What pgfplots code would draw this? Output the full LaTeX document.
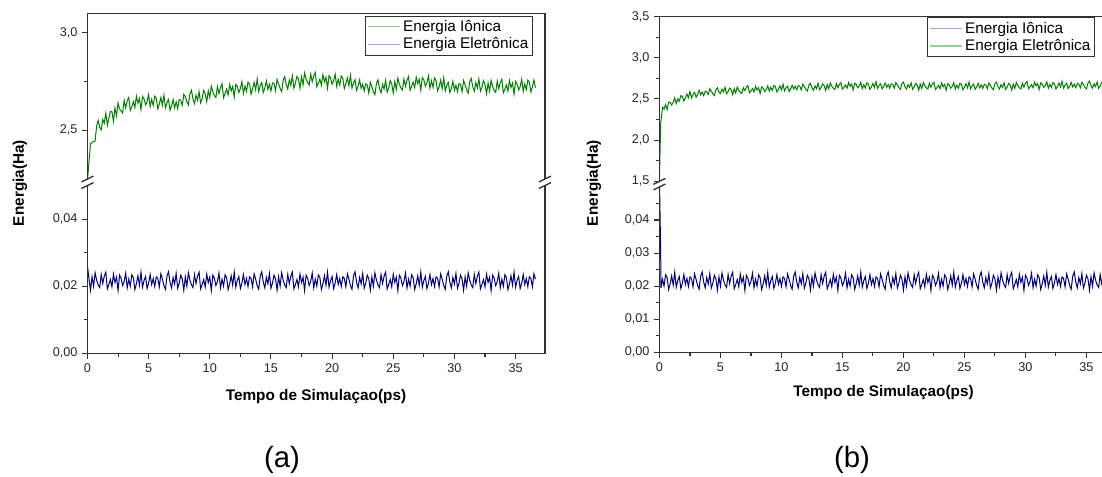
\documentclass[border=0pt]{standalone}
\usepackage{fontspec}
\setmainfont{Liberation Sans}
\usepackage{pgfplots}
\pgfplotsset{compat=1.18}
\usepackage{pgfplotstable}

\definecolor{dgreen}{RGB}{0,128,0}
\definecolor{dnavy}{RGB}{0,0,128}
\definecolor{lgreen}{RGB}{150,210,150}
\definecolor{lblue}{RGB}{165,165,220}
\definecolor{spine}{RGB}{50,50,50}

% (a) upper series
\pgfplotstableread[row sep=\\]{t y\\
0 2.24\\0.125 2.34\\0.25 2.431\\0.375 2.438\\0.5 2.442\\0.625 2.445\\0.75 2.522\\0.875 2.550\\1 2.515\\1.125 2.502\\1.25 2.555\\1.375 2.536\\1.5 2.588\\1.625 2.525\\1.75 2.562\\1.875 2.596\\2 2.595\\2.125 2.547\\2.25 2.614\\2.375 2.573\\2.5 2.641\\2.625 2.609\\2.75 2.599\\2.875 2.588\\3 2.654\\3.125 2.615\\3.25 2.651\\3.375 2.668\\3.5 2.602\\3.625 2.621\\3.75 2.647\\3.875 2.616\\4 2.675\\4.125 2.639\\4.25 2.663\\4.375 2.606\\4.5 2.673\\4.625 2.661\\4.75 2.630\\4.875 2.647\\5 2.684\\5.125 2.621\\5.25 2.658\\5.375 2.628\\5.5 2.675\\5.625 2.664\\5.75 2.610\\5.875 2.635\\6 2.668\\6.125 2.628\\6.25 2.680\\6.375 2.615\\6.5 2.641\\6.625 2.658\\6.75 2.603\\6.875 2.625\\7 2.658\\7.125 2.615\\7.25 2.646\\7.375 2.612\\7.5 2.658\\7.625 2.652\\7.75 2.628\\7.875 2.684\\8 2.673\\8.125 2.647\\8.25 2.630\\8.375 2.687\\8.5 2.705\\8.625 2.660\\8.75 2.637\\8.875 2.680\\9 2.653\\9.125 2.698\\9.25 2.641\\9.375 2.663\\9.5 2.704\\9.625 2.688\\9.75 2.646\\9.875 2.703\\10 2.668\\10.125 2.726\\10.25 2.697\\10.375 2.677\\10.5 2.668\\10.625 2.724\\10.75 2.688\\10.875 2.719\\11 2.738\\11.125 2.667\\11.25 2.689\\11.375 2.710\\11.5 2.681\\11.625 2.735\\11.75 2.702\\11.875 2.725\\12 2.670\\12.125 2.735\\12.25 2.726\\12.375 2.694\\12.5 2.713\\12.625 2.749\\12.75 2.689\\12.875 2.727\\13 2.699\\13.125 2.747\\13.25 2.737\\13.375 2.685\\13.5 2.712\\13.625 2.746\\13.75 2.707\\13.875 2.763\\14 2.699\\14.125 2.728\\14.25 2.745\\14.375 2.694\\14.5 2.716\\14.625 2.753\\14.75 2.710\\14.875 2.736\\15 2.702\\15.125 2.743\\15.25 2.740\\15.375 2.703\\15.5 2.761\\15.625 2.738\\15.75 2.715\\15.875 2.698\\16 2.757\\16.125 2.775\\16.25 2.734\\16.375 2.711\\16.5 2.758\\16.625 2.731\\16.75 2.779\\16.875 2.716\\17 2.742\\17.125 2.776\\17.25 2.763\\17.375 2.715\\17.5 2.774\\17.625 2.733\\17.75 2.794\\17.875 2.762\\18 2.744\\18.125 2.733\\18.25 2.788\\18.375 2.749\\18.5 2.779\\18.625 2.796\\18.75 2.723\\18.875 2.742\\19 2.762\\19.125 2.731\\19.25 2.785\\19.375 2.749\\19.5 2.772\\19.625 2.715\\19.75 2.780\\19.875 2.768\\20 2.736\\20.125 2.753\\20.25 2.788\\20.375 2.725\\20.5 2.762\\20.625 2.732\\20.75 2.778\\20.875 2.767\\21 2.714\\21.125 2.739\\21.25 2.769\\21.375 2.729\\21.5 2.782\\21.625 2.717\\21.75 2.742\\21.875 2.759\\22 2.704\\22.125 2.726\\22.25 2.758\\22.375 2.715\\22.5 2.736\\22.625 2.702\\22.75 2.738\\22.875 2.732\\23 2.690\\23.125 2.746\\23.25 2.724\\23.375 2.698\\23.5 2.683\\23.625 2.740\\23.75 2.759\\23.875 2.714\\24 2.692\\24.125 2.735\\24.25 2.711\\24.375 2.756\\24.5 2.695\\24.625 2.717\\24.75 2.754\\24.875 2.738\\25 2.692\\25.125 2.749\\25.25 2.709\\25.375 2.767\\25.5 2.737\\25.625 2.717\\25.75 2.707\\25.875 2.763\\26 2.725\\26.125 2.756\\26.25 2.776\\26.375 2.705\\26.5 2.726\\26.625 2.747\\26.75 2.719\\26.875 2.773\\27 2.739\\27.125 2.762\\27.25 2.705\\27.375 2.770\\27.5 2.758\\27.625 2.726\\27.75 2.743\\27.875 2.779\\28 2.716\\28.125 2.754\\28.25 2.720\\28.375 2.768\\28.5 2.754\\28.625 2.702\\28.75 2.723\\28.875 2.757\\29 2.713\\29.125 2.769\\29.25 2.702\\29.375 2.731\\29.5 2.745\\29.625 2.694\\29.75 2.714\\29.875 2.751\\30 2.705\\30.125 2.731\\30.25 2.698\\30.375 2.739\\30.5 2.735\\30.625 2.698\\30.75 2.755\\30.875 2.732\\31 2.707\\31.125 2.690\\31.25 2.748\\31.375 2.766\\31.5 2.723\\31.625 2.700\\31.75 2.744\\31.875 2.717\\32 2.763\\32.125 2.700\\32.25 2.720\\32.375 2.754\\32.5 2.735\\32.625 2.687\\32.75 2.742\\32.875 2.701\\33 2.756\\33.125 2.724\\33.25 2.705\\33.375 2.694\\33.5 2.752\\33.625 2.713\\33.75 2.745\\33.875 2.762\\34 2.692\\34.125 2.711\\34.25 2.732\\34.375 2.701\\34.5 2.755\\34.625 2.719\\34.75 2.742\\34.875 2.685\\35 2.750\\35.125 2.738\\35.25 2.707\\35.375 2.724\\35.5 2.762\\35.625 2.699\\35.75 2.738\\35.875 2.708\\36 2.757\\36.125 2.746\\36.25 2.697\\36.375 2.722\\36.5 2.758\\36.625 2.718\\
}\agreen

% (a) lower series
\pgfplotstableread[row sep=\\]{t y\\
0 .0260\\0.125 .0222\\0.25 .0188\\0.375 .0228\\0.5 .0200\\0.625 .0240\\0.75 .0218\\0.875 .0204\\1 .0196\\1.125 .0235\\1.25 .0208\\1.375 .0230\\1.5 .0242\\1.625 .0192\\1.75 .0205\\1.875 .0220\\2 .0198\\2.125 .0236\\2.25 .0211\\2.375 .0227\\2.5 .0187\\2.625 .0233\\2.75 .0224\\2.875 .0202\\3 .0214\\3.125 .0239\\3.25 .0195\\3.375 .0221\\3.5 .0200\\3.625 .0234\\3.75 .0226\\3.875 .0190\\4 .0207\\4.125 .0231\\4.25 .0203\\4.375 .0242\\4.5 .0197\\4.625 .0217\\4.75 .0229\\4.875 .0193\\5 .0209\\5.125 .0235\\5.25 .0205\\5.375 .0223\\5.5 .0199\\5.625 .0228\\
5.75 .0223\\5.875 .0198\\6 .0237\\6.125 .0221\\6.25 .0202\\6.375 .0191\\6.5 .0230\\6.625 .0243\\6.75 .0212\\6.875 .0195\\7 .0226\\7.125 .0207\\7.25 .0238\\7.375 .0194\\7.5 .0209\\7.625 .0233\\7.75 .0222\\7.875 .0188\\8 .0228\\8.125 .0200\\8.25 .0240\\8.375 .0218\\8.5 .0204\\8.625 .0196\\8.75 .0235\\8.875 .0208\\9 .0230\\9.125 .0242\\9.25 .0192\\9.375 .0205\\9.5 .0220\\9.625 .0198\\9.75 .0236\\9.875 .0211\\10 .0227\\10.125 .0187\\10.25 .0233\\10.375 .0224\\10.5 .0202\\10.625 .0214\\10.75 .0239\\10.875 .0195\\11 .0221\\11.125 .0200\\11.25 .0234\\11.375 .0226\\11.5 .0190\\11.625 .0207\\11.75 .0231\\11.875 .0203\\12 .0242\\12.125 .0197\\12.25 .0217\\12.375 .0229\\12.5 .0193\\12.625 .0209\\12.75 .0235\\12.875 .0205\\13 .0223\\13.125 .0199\\13.25 .0228\\
13.375 .0223\\13.5 .0198\\13.625 .0237\\13.75 .0221\\13.875 .0202\\14 .0191\\14.125 .0230\\14.25 .0243\\14.375 .0212\\14.5 .0195\\14.625 .0226\\14.75 .0207\\14.875 .0238\\15 .0194\\15.125 .0209\\15.25 .0233\\15.375 .0222\\15.5 .0188\\15.625 .0228\\15.75 .0200\\15.875 .0240\\16 .0218\\16.125 .0204\\16.25 .0196\\16.375 .0235\\16.5 .0208\\16.625 .0230\\16.75 .0242\\16.875 .0192\\17 .0205\\17.125 .0220\\17.25 .0198\\17.375 .0236\\17.5 .0211\\17.625 .0227\\17.75 .0187\\17.875 .0233\\18 .0224\\18.125 .0202\\18.25 .0214\\18.375 .0239\\18.5 .0195\\18.625 .0221\\18.75 .0200\\18.875 .0234\\19 .0226\\19.125 .0190\\19.25 .0207\\19.375 .0231\\19.5 .0203\\19.625 .0242\\19.75 .0197\\19.875 .0217\\20 .0229\\20.125 .0193\\20.25 .0209\\20.375 .0235\\20.5 .0205\\20.625 .0223\\20.75 .0199\\20.875 .0228\\
21 .0223\\21.125 .0198\\21.25 .0237\\21.375 .0221\\21.5 .0202\\21.625 .0191\\21.75 .0230\\21.875 .0243\\22 .0212\\22.125 .0195\\22.25 .0226\\22.375 .0207\\22.5 .0238\\22.625 .0194\\22.75 .0209\\22.875 .0233\\23 .0222\\23.125 .0188\\23.25 .0228\\23.375 .0200\\23.5 .0240\\23.625 .0218\\23.75 .0204\\23.875 .0196\\24 .0235\\24.125 .0208\\24.25 .0230\\24.375 .0242\\24.5 .0192\\24.625 .0205\\24.75 .0220\\24.875 .0198\\25 .0236\\25.125 .0211\\25.25 .0227\\25.375 .0187\\25.5 .0233\\25.625 .0224\\25.75 .0202\\25.875 .0214\\26 .0239\\26.125 .0195\\26.25 .0221\\26.375 .0200\\26.5 .0234\\26.625 .0226\\26.75 .0190\\26.875 .0207\\27 .0231\\27.125 .0203\\27.25 .0242\\27.375 .0197\\27.5 .0217\\27.625 .0229\\27.75 .0193\\27.875 .0209\\28 .0235\\28.125 .0205\\28.25 .0223\\28.375 .0199\\28.5 .0228\\
28.625 .0223\\28.75 .0198\\28.875 .0237\\29 .0221\\29.125 .0202\\29.25 .0191\\29.375 .0230\\29.5 .0243\\29.625 .0212\\29.75 .0195\\29.875 .0226\\30 .0207\\30.125 .0238\\30.25 .0194\\30.375 .0209\\30.5 .0233\\30.625 .0222\\30.75 .0188\\30.875 .0228\\31 .0200\\31.125 .0240\\31.25 .0218\\31.375 .0204\\31.5 .0196\\31.625 .0235\\31.75 .0208\\31.875 .0230\\32 .0242\\32.125 .0192\\32.25 .0205\\32.375 .0220\\32.5 .0198\\32.625 .0236\\32.75 .0211\\32.875 .0227\\33 .0187\\33.125 .0233\\33.25 .0224\\33.375 .0202\\33.5 .0214\\33.625 .0239\\33.75 .0195\\33.875 .0221\\34 .0200\\34.125 .0234\\34.25 .0226\\34.375 .0190\\34.5 .0207\\34.625 .0231\\34.75 .0203\\34.875 .0242\\35 .0197\\35.125 .0217\\35.25 .0229\\35.375 .0193\\35.5 .0209\\35.625 .0235\\35.75 .0205\\35.875 .0223\\36 .0199\\36.125 .0228\\
36.25 .0223\\36.375 .0198\\36.5 .0237\\36.625 .0221\\
}\ablue

% (b) upper series
\pgfplotstableread[row sep=\\]{t y\\
0 1.55\\0.1 2.20\\0.25 2.398\\0.375 2.377\\0.5 2.431\\0.625 2.370\\0.75 2.461\\0.875 2.456\\1 2.426\\1.125 2.457\\1.25 2.513\\1.375 2.444\\1.5 2.501\\1.625 2.471\\1.75 2.539\\1.875 2.532\\2 2.475\\2.125 2.511\\2.25 2.559\\2.375 2.514\\2.5 2.589\\2.625 2.512\\2.75 2.554\\2.875 2.580\\3 2.521\\3.125 2.554\\3.25 2.605\\3.375 2.551\\3.5 2.584\\3.625 2.541\\3.75 2.593\\3.875 2.585\\4 2.554\\4.125 2.624\\4.25 2.595\\4.375 2.562\\4.5 2.541\\4.625 2.613\\4.75 2.635\\4.875 2.579\\5 2.565\\5.125 2.619\\5.25 2.585\\5.375 2.641\\5.5 2.562\\5.625 2.590\\5.75 2.633\\5.875 2.613\\6 2.552\\6.125 2.624\\6.25 2.572\\6.375 2.645\\6.5 2.605\\6.625 2.580\\6.75 2.566\\6.875 2.636\\7 2.602\\7.125 2.641\\7.25 2.663\\7.375 2.574\\7.5 2.597\\7.625 2.624\\7.75 2.585\\7.875 2.653\\8 2.607\\8.125 2.636\\8.25 2.565\\8.375 2.646\\8.5 2.631\\8.625 2.591\\8.75 2.612\\8.875 2.658\\9 2.594\\9.125 2.641\\9.25 2.604\\9.375 2.664\\9.5 2.650\\9.625 2.585\\9.75 2.616\\9.875 2.659\\10 2.609\\10.125 2.679\\10.25 2.597\\10.375 2.634\\10.5 2.655\\10.625 2.591\\10.75 2.619\\10.875 2.665\\11 2.621\\11.125 2.654\\11.25 2.611\\11.375 2.663\\11.5 2.655\\11.625 2.609\\11.75 2.679\\11.875 2.650\\12 2.617\\12.125 2.596\\12.25 2.668\\12.375 2.690\\12.5 2.634\\12.625 2.605\\12.75 2.659\\12.875 2.625\\13 2.691\\13.125 2.612\\13.25 2.640\\13.375 2.683\\13.5 2.663\\13.625 2.602\\13.75 2.674\\13.875 2.622\\14 2.695\\14.125 2.655\\14.25 2.630\\14.375 2.616\\14.5 2.686\\14.625 2.637\\14.75 2.676\\14.875 2.698\\15 2.619\\15.125 2.642\\15.25 2.669\\15.375 2.630\\15.5 2.698\\15.625 2.652\\15.75 2.681\\15.875 2.610\\16 2.691\\16.125 2.676\\16.25 2.636\\16.375 2.657\\16.5 2.703\\16.625 2.624\\16.75 2.671\\16.875 2.634\\17 2.694\\17.125 2.680\\17.25 2.615\\17.375 2.646\\17.5 2.689\\17.625 2.639\\17.75 2.709\\17.875 2.627\\18 2.664\\18.125 2.685\\18.25 2.621\\18.375 2.649\\18.5 2.695\\18.625 2.641\\18.75 2.674\\18.875 2.631\\19 2.683\\19.125 2.675\\19.25 2.629\\19.375 2.699\\19.5 2.670\\19.625 2.637\\19.75 2.616\\19.875 2.688\\20 2.705\\20.125 2.649\\20.25 2.620\\20.375 2.674\\20.5 2.640\\20.625 2.696\\20.75 2.617\\20.875 2.645\\21 2.688\\21.125 2.668\\21.25 2.607\\21.375 2.679\\21.5 2.627\\21.625 2.700\\21.75 2.660\\21.875 2.635\\22 2.621\\22.125 2.691\\22.25 2.642\\22.375 2.681\\22.5 2.703\\22.625 2.614\\22.75 2.637\\22.875 2.664\\23 2.625\\23.125 2.693\\23.25 2.647\\23.375 2.676\\23.5 2.605\\23.625 2.686\\23.75 2.671\\23.875 2.631\\24 2.652\\24.125 2.698\\24.25 2.619\\24.375 2.666\\24.5 2.629\\24.625 2.689\\24.75 2.675\\24.875 2.610\\25 2.641\\25.125 2.684\\25.25 2.634\\25.375 2.704\\25.5 2.622\\25.625 2.659\\25.75 2.680\\25.875 2.616\\26 2.644\\26.125 2.690\\26.25 2.636\\26.375 2.669\\26.5 2.626\\26.625 2.678\\26.75 2.670\\26.875 2.624\\27 2.694\\27.125 2.665\\27.25 2.632\\27.375 2.611\\27.5 2.683\\27.625 2.705\\27.75 2.649\\27.875 2.620\\28 2.674\\28.125 2.640\\28.25 2.696\\28.375 2.617\\28.5 2.645\\28.625 2.688\\28.75 2.668\\28.875 2.607\\29 2.679\\29.125 2.627\\29.25 2.700\\29.375 2.660\\29.5 2.635\\29.625 2.621\\29.75 2.691\\29.875 2.642\\30 2.691\\30.125 2.713\\30.25 2.624\\30.375 2.647\\30.5 2.674\\30.625 2.635\\30.75 2.703\\30.875 2.657\\31 2.686\\31.125 2.615\\31.25 2.696\\31.375 2.681\\31.5 2.641\\31.625 2.662\\31.75 2.708\\31.875 2.629\\32 2.676\\32.125 2.639\\32.25 2.699\\32.375 2.685\\32.5 2.620\\32.625 2.651\\32.75 2.694\\32.875 2.644\\33 2.714\\33.125 2.632\\33.25 2.669\\33.375 2.690\\33.5 2.626\\33.625 2.654\\33.75 2.700\\33.875 2.646\\34 2.679\\34.125 2.636\\34.25 2.688\\34.375 2.680\\34.5 2.634\\34.625 2.704\\34.75 2.675\\34.875 2.642\\35 2.621\\35.125 2.693\\35.25 2.715\\35.375 2.659\\35.5 2.630\\35.625 2.684\\35.75 2.650\\35.875 2.706\\36 2.627\\36.125 2.655\\36.25 2.698\\36.375 2.678\\36.5 2.617\\36.625 2.672\\
}\bgreen

% (b) lower series
\pgfplotstableread[row sep=\\]{t y\\
0 .0520\\0.1 .0300\\0.125 .0195\\0.25 .0221\\0.375 .0200\\0.5 .0234\\0.625 .0226\\0.75 .0190\\0.875 .0207\\1 .0231\\1.125 .0203\\1.25 .0242\\1.375 .0197\\1.5 .0217\\1.625 .0229\\1.75 .0193\\1.875 .0209\\2 .0235\\2.125 .0205\\2.25 .0223\\2.375 .0199\\2.5 .0228\\
2.625 .0223\\2.75 .0198\\2.875 .0237\\3 .0221\\3.125 .0202\\3.25 .0191\\3.375 .0230\\3.5 .0243\\3.625 .0212\\3.75 .0195\\3.875 .0226\\4 .0207\\4.125 .0238\\4.25 .0194\\4.375 .0209\\4.5 .0233\\4.625 .0222\\4.75 .0188\\4.875 .0228\\5 .0200\\5.125 .0240\\5.25 .0218\\5.375 .0204\\5.5 .0196\\5.625 .0235\\5.75 .0208\\5.875 .0230\\6 .0242\\6.125 .0192\\6.25 .0205\\6.375 .0220\\6.5 .0198\\6.625 .0236\\6.75 .0211\\6.875 .0227\\7 .0187\\7.125 .0233\\7.25 .0224\\7.375 .0202\\7.5 .0214\\7.625 .0239\\7.75 .0195\\7.875 .0221\\8 .0200\\8.125 .0234\\8.25 .0226\\8.375 .0190\\8.5 .0207\\8.625 .0231\\8.75 .0203\\8.875 .0242\\9 .0197\\9.125 .0217\\9.25 .0229\\9.375 .0193\\9.5 .0209\\9.625 .0235\\9.75 .0205\\9.875 .0223\\10 .0199\\10.125 .0228\\
10.25 .0223\\10.375 .0198\\10.5 .0237\\10.625 .0221\\10.75 .0202\\10.875 .0191\\11 .0230\\11.125 .0243\\11.25 .0212\\11.375 .0195\\11.5 .0226\\11.625 .0207\\11.75 .0238\\11.875 .0194\\12 .0209\\12.125 .0233\\12.25 .0222\\12.375 .0188\\12.5 .0228\\12.625 .0200\\12.75 .0240\\12.875 .0218\\13 .0204\\13.125 .0196\\13.25 .0235\\13.375 .0208\\13.5 .0230\\13.625 .0242\\13.75 .0192\\13.875 .0205\\14 .0220\\14.125 .0198\\14.25 .0236\\14.375 .0211\\14.5 .0227\\14.625 .0187\\14.75 .0233\\14.875 .0224\\15 .0202\\15.125 .0214\\15.25 .0239\\15.375 .0195\\15.5 .0221\\15.625 .0200\\15.75 .0234\\15.875 .0226\\16 .0190\\16.125 .0207\\16.25 .0231\\16.375 .0203\\16.5 .0242\\16.625 .0197\\16.75 .0217\\16.875 .0229\\17 .0193\\17.125 .0209\\17.25 .0235\\17.375 .0205\\17.5 .0223\\17.625 .0199\\17.75 .0228\\
17.875 .0223\\18 .0198\\18.125 .0237\\18.25 .0221\\18.375 .0202\\18.5 .0191\\18.625 .0230\\18.75 .0243\\18.875 .0212\\19 .0195\\19.125 .0226\\19.25 .0207\\19.375 .0238\\19.5 .0194\\19.625 .0209\\19.75 .0233\\19.875 .0222\\20 .0188\\20.125 .0228\\20.25 .0200\\20.375 .0240\\20.5 .0218\\20.625 .0204\\20.75 .0196\\20.875 .0235\\21 .0208\\21.125 .0230\\21.25 .0242\\21.375 .0192\\21.5 .0205\\21.625 .0220\\21.75 .0198\\21.875 .0236\\22 .0211\\22.125 .0227\\22.25 .0187\\22.375 .0233\\22.5 .0224\\22.625 .0202\\22.75 .0214\\22.875 .0239\\23 .0195\\23.125 .0221\\23.25 .0200\\23.375 .0234\\23.5 .0226\\23.625 .0190\\23.75 .0207\\23.875 .0231\\24 .0203\\24.125 .0242\\24.25 .0197\\24.375 .0217\\24.5 .0229\\24.625 .0193\\24.75 .0209\\24.875 .0235\\25 .0205\\25.125 .0223\\25.25 .0199\\25.375 .0228\\
25.5 .0223\\25.625 .0198\\25.75 .0237\\25.875 .0221\\26 .0202\\26.125 .0191\\26.25 .0230\\26.375 .0243\\26.5 .0212\\26.625 .0195\\26.75 .0226\\26.875 .0207\\27 .0238\\27.125 .0194\\27.25 .0209\\27.375 .0233\\27.5 .0222\\27.625 .0188\\27.75 .0228\\27.875 .0200\\28 .0240\\28.125 .0218\\28.25 .0204\\28.375 .0196\\28.5 .0235\\28.625 .0208\\28.75 .0230\\28.875 .0242\\29 .0192\\29.125 .0205\\29.25 .0220\\29.375 .0198\\29.5 .0236\\29.625 .0211\\29.75 .0227\\29.875 .0187\\30 .0233\\30.125 .0224\\30.25 .0202\\30.375 .0214\\30.5 .0239\\30.625 .0195\\30.75 .0221\\30.875 .0200\\31 .0234\\31.125 .0226\\31.25 .0190\\31.375 .0207\\31.5 .0231\\31.625 .0203\\31.75 .0242\\31.875 .0197\\32 .0217\\32.125 .0229\\32.25 .0193\\32.375 .0209\\32.5 .0235\\32.625 .0205\\32.75 .0223\\32.875 .0199\\33 .0228\\
33.125 .0223\\33.25 .0198\\33.375 .0237\\33.5 .0221\\33.625 .0202\\33.75 .0191\\33.875 .0230\\34 .0243\\34.125 .0212\\34.25 .0195\\34.375 .0226\\34.5 .0207\\34.625 .0238\\34.75 .0194\\34.875 .0209\\35 .0233\\35.125 .0222\\35.25 .0188\\35.375 .0228\\35.5 .0200\\35.625 .0240\\35.75 .0218\\35.875 .0204\\36 .0196\\36.125 .0235\\36.25 .0208\\36.375 .0230\\36.5 .0242\\36.625 .0192\\
}\bblue

\tikzset{spinest/.style={draw=spine, line width=1pt}}

\pgfplotsset{
  brk/.style={
    scale only axis, width=343.1pt,
    separate axis lines, axis line style={draw=none},
    clip mode=individual,
    tick align=outside, xtick pos=bottom, ytick pos=left,
    tick style={draw=spine, line width=0.8pt},
    major tick length=4pt, minor tick length=2.5pt,
    tick label style={font=\fontsize{9.5}{10}\selectfont, text=black!85},
    scaled y ticks=false, scaled x ticks=false,
    /pgf/number format/assume math mode=true,
    yticklabel style={/pgf/number format/use comma, /pgf/number format/fixed,
      /pgf/number format/fixed zerofill, /pgf/number format/precision=2},
    legend cell align=left,
    legend image code/.code={\draw[#1, line width=1pt] (0pt,0pt) -- (24pt,0pt);},
    legend style={at={(1,1)}, anchor=north east, draw=spine, line width=0.6pt, fill=white,
      font=\fontsize{11.5}{13}\selectfont, inner sep=1.5pt, row sep=0pt,
      nodes={inner sep=1.6pt}},
  },
}

\begin{document}
\begin{tikzpicture}
\useasboundingbox (0,0) rectangle (826.5pt,357pt);

% ---------- (a) upper
\begin{axis}[brk, at={(65.6pt,222.75pt)}, anchor=south west, height=124.3pt,
  xmin=0, xmax=37.4, ymin=2.25, ymax=3.1, xtick=\empty,
  ytick={2.5,3.0}, minor ytick={2.75},
  yticklabel style={/pgf/number format/precision=1},
  legend style={xshift=-9pt, yshift=-1.8pt}]
\addlegendimage{draw=lgreen}\addlegendentry{Energia Iônica}
\addlegendimage{draw=lblue}\addlegendentry{Energia Eletrônica}
\addplot[dgreen, line width=0.75pt, forget plot] table {\agreen};
\draw[spinest] (rel axis cs:0,0) -- (rel axis cs:0,1) -- (rel axis cs:1,1) -- (rel axis cs:1,0);
\draw[spinest] (rel axis cs:0,0) ++(-4.5pt,-2.2pt) -- ++(9pt,4.4pt);
\draw[spinest] (rel axis cs:1,0) ++(-4.5pt,-2.2pt) -- ++(9pt,4.4pt);
\end{axis}

% ---------- (a) lower
\begin{axis}[brk, at={(65.6pt,92.0pt)}, anchor=south west, height=125.85pt,
  xmin=0, xmax=37.4, ymin=0, ymax=0.05,
  xtick={0,5,...,35}, minor xtick={2.5,7.5,...,37.5},
  ytick={0,0.02,0.04}, minor ytick={0.01,0.03}]
\addplot[dnavy, line width=0.75pt] table {\ablue};
\draw[spinest] (rel axis cs:0,1) -- (rel axis cs:0,0) -- (rel axis cs:1,0) -- (rel axis cs:1,1);
\draw[spinest] (rel axis cs:0,1) ++(-4.5pt,-2.2pt) -- ++(9pt,4.4pt);
\draw[spinest] (rel axis cs:1,1) ++(-4.5pt,-2.2pt) -- ++(9pt,4.4pt);
\end{axis}

% ---------- (b) upper
\begin{axis}[brk, at={(494.6pt,221.0pt)}, anchor=south west, height=123.6pt,
  xmin=0, xmax=37.5, ymin=1.5, ymax=3.5, xtick=\empty,
  ytick={1.5,2.0,...,3.5}, minor ytick={1.75,2.25,2.75,3.25},
  yticklabel style={/pgf/number format/precision=1},
  legend style={xshift=-16.5pt, yshift=-0.6pt}]
\addlegendimage{draw=lblue}\addlegendentry{Energia Iônica}
\addlegendimage{draw=lgreen}\addlegendentry{Energia Eletrônica}
\addplot[dgreen, line width=0.75pt, forget plot] table {\bgreen};
\draw[spinest] (rel axis cs:0,0) -- (rel axis cs:0,1) -- (rel axis cs:1,1) -- (rel axis cs:1,0);
\draw[spinest] (rel axis cs:0,0) ++(-4.5pt,-2.2pt) -- ++(9pt,4.4pt);
\end{axis}

% ---------- (b) lower
\begin{axis}[brk, at={(494.6pt,92.8pt)}, anchor=south west, height=124.0pt,
  xmin=0, xmax=37.5, ymin=0, ymax=0.05,
  xtick={0,5,...,35}, minor xtick={2.5,7.5,...,37.5},
  ytick={0,0.01,...,0.04}, minor ytick={0.005,0.015,0.025,0.035,0.045}]
\addplot[dnavy, line width=0.75pt] table {\bblue};
\draw[spinest] (rel axis cs:0,1) -- (rel axis cs:0,0) -- (rel axis cs:1,0) -- (rel axis cs:1,1);
\draw[spinest] (rel axis cs:0,1) ++(-4.5pt,-2.2pt) -- ++(9pt,4.4pt);
\end{axis}

% ---------- labels
\node[rotate=90, font=\bfseries\fontsize{11.5}{12}\selectfont] at (15pt,219.75pt) {Energia(Ha)};
\node[rotate=90, font=\bfseries\fontsize{11.5}{12}\selectfont] at (445.5pt,219.75pt) {Energia(Ha)};
\node[font=\bfseries\fontsize{11.5}{12}\selectfont] at (237pt,59.25pt) {Tempo de Simulaçao(ps)};
\node[font=\bfseries\fontsize{11.5}{12}\selectfont] at (662.6pt,62.5pt) {Tempo de Simulaçao(ps)};
\node[font=\fontsize{22}{24}\selectfont] at (211.5pt,12pt) {(a)};
\node[font=\fontsize{22}{24}\selectfont] at (639pt,12pt) {(b)};
\end{tikzpicture}
\end{document}
